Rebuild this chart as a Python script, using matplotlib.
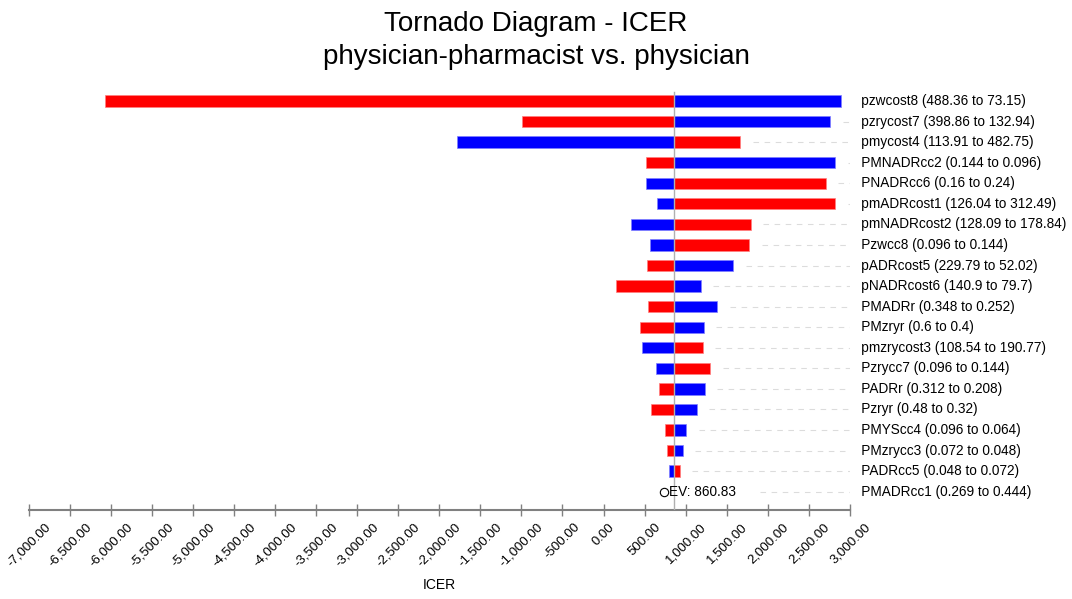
import matplotlib.pyplot as plt

plt.rcParams['font.family'] = ['Liberation Sans', 'DejaVu Sans']

# 入力データ
params = ["pzwcost8 (488.36 to 73.15)", "pzrycost7 (398.86 to 132.94)",
          "pmycost4 (113.91 to 482.75)", "PMNADRcc2 (0.144 to 0.096)",
          "PNADRcc6 (0.16 to 0.24)", "pmADRcost1 (126.04 to 312.49)",
          "pmNADRcost2 (128.09 to 178.84)", "Pzwcc8 (0.096 to 0.144)",
          "pADRcost5 (229.79 to 52.02)", "pNADRcost6 (140.9 to 79.7)",
          "PMADRr (0.348 to 0.252)", "PMzryr (0.6 to 0.4)",
          "pmzrycost3 (108.54 to 190.77)", "Pzrycc7 (0.096 to 0.144)",
          "PADRr (0.312 to 0.208)", "Pzryr (0.48 to 0.32)",
          "PMYScc4 (0.096 to 0.064)", "PMzrycc3 (0.072 to 0.048)",
          "PADRcc5 (0.048 to 0.072)", "PMADRcc1 (0.269 to 0.444)"]
red_icer = [-6065, -997, 1664, 513, 2708, 2821, 1791, 1774, 525, 148,
            537, 440, 1206, 1300, 675, 577, 744, 772, 927, 860.83]
blue_icer = [2890, 2760, -1788, 2821, 513, 650, 330, 565, 1579, 1186,
             1384, 1219, 468, 634, 1231, 1133, 1007, 967, 800, 860.83]
ev = 860.83
xticks = list(range(-7000, 3001, 500))

fig = plt.figure(figsize=(10.72, 5.99), dpi=100)
ax = fig.add_axes([28.5 / 1072, 1 - 510 / 599, 821.5 / 1072, 420 / 599])

rows = list(range(len(params)))
bar_h = 0.55
for i in rows:
    r, b = red_icer[i], blue_icer[i]
    ax.barh(i, r - ev, left=ev, height=bar_h, color='#ff0000',
            edgecolor='#ff8080', linewidth=0.5)
    ax.barh(i, b - ev, left=ev, height=bar_h, color='#0000ff',
            edgecolor='#8080ff', linewidth=0.5)
    # 右側の破線ガイド
    right_end = max(r, b, ev)
    start = right_end + 150 if i < len(params) - 1 else 1900
    ax.plot([start, 3000], [i, i], color='#dcdcdc', linewidth=0.8,
            linestyle=(0, (5, 5)), zorder=0)
    ax.text(3000, i, "   " + params[i], va='center', ha='left', fontsize=9.8,
            clip_on=False)

# 中心線（期待値）
ax.plot([ev, ev], [-0.45, 19.85], color='#b0b0b0', linewidth=1, zorder=3)
ax.plot([735], [19], marker='o', markersize=6, markerfacecolor='none',
        markeredgecolor='black', markeredgewidth=0.8, clip_on=False)
ax.text(800, 19, "EV: 860.83", va='center', ha='left', fontsize=9.8)

ax.set_xlim(-7000, 3000)
ax.set_ylim(19.89, -0.535)
ax.set_yticks([])
for side in ['top', 'right', 'left']:
    ax.spines[side].set_visible(False)
ax.spines['bottom'].set_color('#808080')
ax.spines['bottom'].set_linewidth(1.5)
ax.set_xticks(xticks)
ax.set_xticklabels([f"{v:,.2f}" for v in xticks], rotation=45, ha='center',
                   fontsize=9.5)
ax.tick_params(axis='x', direction='inout', length=8, width=1,
               color='#808080', pad=4)
ax.set_xlabel("ICER", fontsize=10, labelpad=6)

fig.text(0.5, 1 - 24 / 599, "Tornado Diagram - ICER", ha='center',
         va='center', fontsize=20)
fig.text(0.5, 1 - 57 / 599, "physician-pharmacist vs. physician",
         ha='center', va='center', fontsize=20)

plt.savefig("out.png", dpi=100)
